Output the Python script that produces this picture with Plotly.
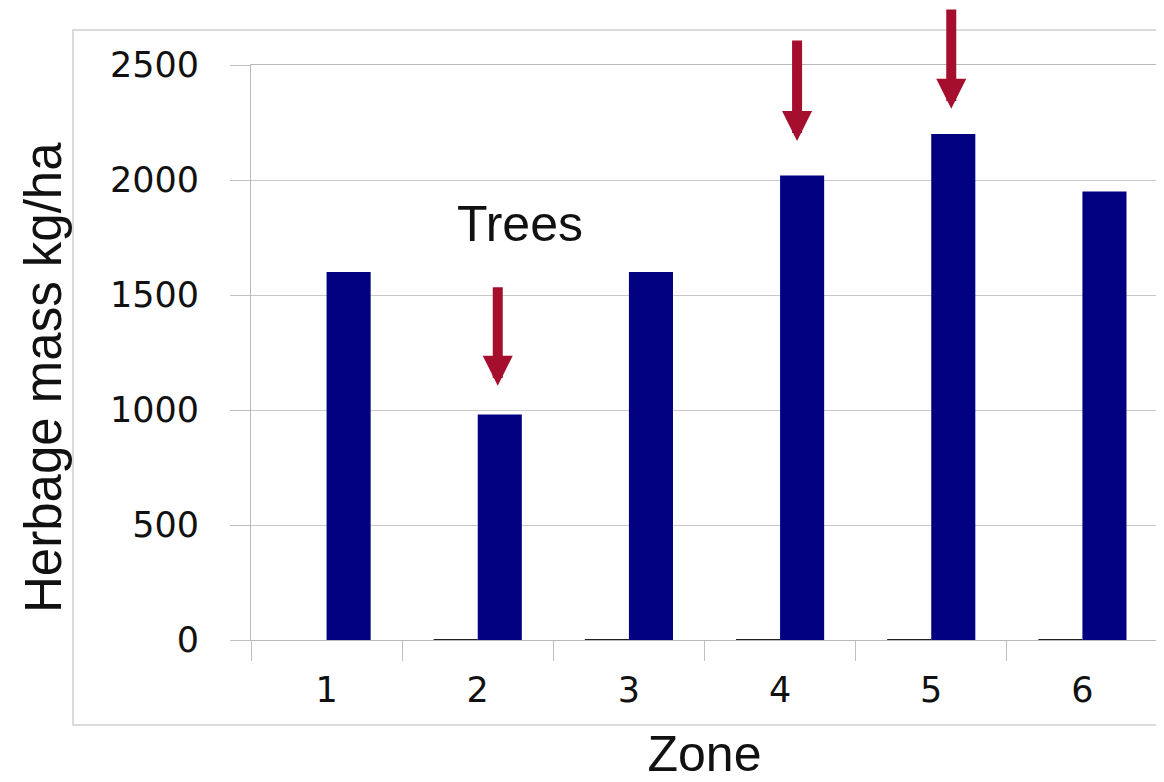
import plotly.graph_objects as go

# ---- data ----
zones = ["1", "2", "3", "4", "5", "6"]
series_a = [None, 0, 0, 0, 0, 0]          # empty companion series (zero bars)
herbage_mass = [1600, 980, 1600, 2020, 2200, 1950]
y_ticks = [0, 500, 1000, 1500, 2000, 2500]

# arrow annotations: (zone, tip value, tail offset px, x shift px)
arrow_zones = ["2", "4", "5"]
arrow_tips = [1105, 2170, 2310]
arrow_len = [-100, -102, -106]
arrow_shift = [20, 17, 20]
label_zone = "2"
label_text = "Trees"
label_value = 1680
x_title = "Zone"
y_title = "Herbage mass kg/ha"

# page body has an 8px margin, so the figure is slightly smaller than the window
OFF = 8
W, H = 1164 - OFF, 782 - OFF
L, R, T, B = 251 - OFF, 6, 65 - OFF, 142
pw, ph = W - L - R, H - T - B

def px_x(px):
    return (px - OFF - L) / pw

def px_y(py):
    return (H - B - (py - OFF)) / ph

fig = go.Figure()
fig.add_trace(go.Bar(
    x=zones, y=series_a, name="A",
    marker=dict(color="#202020", line=dict(color="#202020", width=2.2)),
    showlegend=False,
))
fig.add_trace(go.Bar(
    x=zones, y=herbage_mass, name="Herbage mass",
    marker=dict(color="#000080", line=dict(width=0)),
    showlegend=False,
))

annotations = []
for z, tip, ln, sh in zip(arrow_zones, arrow_tips, arrow_len, arrow_shift):
    annotations.append(dict(
        x=zones.index(z), y=tip, xref="x", yref="y", text="", showarrow=True,
        ax=0, ay=ln, axref="pixel", ayref="pixel",
        arrowhead=2, arrowsize=0.6, arrowwidth=10, arrowcolor="#A50E2D",
        xshift=sh,
    ))
annotations.append(dict(
    x=zones.index(label_zone), y=label_value, xref="x", yref="y",
    text=label_text, showarrow=False,
    xshift=42, yanchor="bottom",
    font=dict(family="Liberation Sans, Arial", size=50, color="#111111"),
))
annotations.append(dict(
    x=px_x(43), y=px_y(378), xref="paper", yref="paper",
    text=y_title, showarrow=False, textangle=-90,
    xanchor="center", yanchor="middle",
    font=dict(family="Liberation Sans, Arial", size=51, color="#111111"),
))

fig.update_layout(
    width=W, height=H,
    margin=dict(l=L, r=R, t=T, b=B, autoexpand=False),
    paper_bgcolor="white", plot_bgcolor="white",
    barmode="group", bargap=0.417, bargroupgap=0,
    annotations=annotations,
    shapes=[dict(
        type="rect", xref="paper", yref="paper",
        x0=px_x(73), x1=px_x(1162), y0=px_y(725), y1=px_y(30),
        line=dict(color="#d0d0d0", width=1.5), fillcolor="rgba(0,0,0,0)",
        layer="below",
    )],
)

fig.update_xaxes(
    type="category", tickson="boundaries",
    ticks="outside", ticklen=20, tickcolor="#c0c0c0", tickwidth=1,
    showline=True, linecolor="#b8b8b8", linewidth=1, mirror=True,
    showgrid=False,
    tickfont=dict(family="DejaVu Sans", size=35, color="#111111"),
    ticklabelstandoff=19,
    title=dict(text=x_title, standoff=35,
               font=dict(family="Liberation Sans, Arial", size=50, color="#111111")),
)
fig.update_yaxes(
    range=[0, 2500], tickvals=y_ticks,
    ticks="outside", ticklen=20, tickcolor="#c0c0c0", tickwidth=1,
    showline=True, linecolor="#b8b8b8", linewidth=1, mirror=True,
    showgrid=True, gridcolor="#c8c8c8", gridwidth=1,
    zeroline=False,
    tickfont=dict(family="DejaVu Sans", size=35, color="#111111"),
    ticklabelstandoff=24,
)

fig.write_html("out.html")
